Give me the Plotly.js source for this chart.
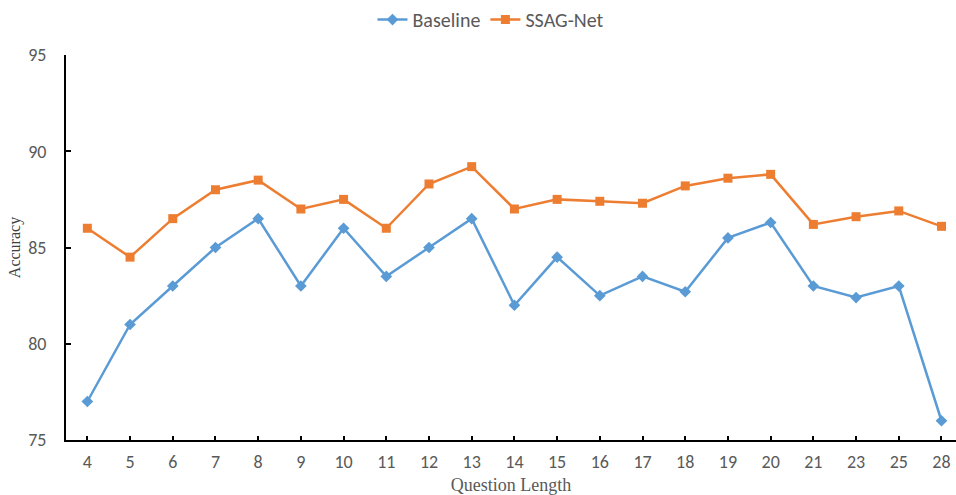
<!DOCTYPE html>
<html>
<head>
<meta charset="utf-8">
<script src="https://cdn.plot.ly/plotly-3.0.1.min.js"></script>
<style>html,body{margin:0;padding:0;background:#fff;}#chart{width:956px;height:495px;}</style>
</head>
<body>
<div id="chart"></div>
<script>
const categories = ["4","5","6","7","8","9","10","11","12","13","14","15","16","17","18","19","20","21","23","25","28"];
const baseline = [77.0,81.0,83.0,85.0,86.5,83.0,86.0,83.5,85.0,86.5,82.0,84.5,82.5,83.5,82.7,85.5,86.3,83.0,82.4,83.0,76.0];
const ssagNet = [86.0,84.5,86.5,88.0,88.5,87.0,87.5,86.0,88.3,89.2,87.0,87.5,87.4,87.3,88.2,88.6,88.8,86.2,86.6,86.9,86.1];
const yTicks = [75,80,85,90,95];

const sansFont = "Carlito, 'Liberation Sans Narrow', 'DejaVu Sans Condensed', 'Open Sans', sans-serif";
const serifFont = "'Liberation Serif', 'DejaVu Serif', serif";

const traces = [
  {x: categories, y: baseline, name: "Baseline", type: "scatter", mode: "lines+markers",
   line: {color: "#5B9BD5", width: 2.5}, marker: {symbol: "diamond", size: 9, color: "#5B9BD5"}},
  {x: categories, y: ssagNet, name: "SSAG-Net", type: "scatter", mode: "lines+markers",
   line: {color: "#ED7D31", width: 2.5}, marker: {symbol: "square", size: 9, color: "#ED7D31"}}
];

const layout = {
  width: 956, height: 495,
  margin: {l: 66, r: 0, t: 55, b: 55, autoexpand: false},
  paper_bgcolor: "#fff", plot_bgcolor: "#fff",
  showlegend: true,
  legend: {orientation: "h", x: 0.4775, xanchor: "center", y: 1.092, yanchor: "middle",
           font: {family: sansFont, size: 20, color: "#595959"}, itemwidth: 30},
  xaxis: {
    type: "category", range: [-0.5, 20.34], showgrid: false, zeroline: false,
    showline: true, linecolor: "#000", linewidth: 2,
    ticks: "inside", ticklen: 4, tickwidth: 2, tickcolor: "#000",
    ticklabelstandoff: 4,
    tickfont: {family: sansFont, size: 18, color: "#595959"},
    title: {text: "Question Length", font: {family: serifFont, size: 18, color: "#595959"}, standoff: 10},
    automargin: false
  },
  yaxis: {
    range: [75, 95], tickvals: yTicks, showgrid: false, zeroline: false,
    showline: true, linecolor: "#000", linewidth: 2,
    ticks: "inside", ticklen: 5, tickwidth: 2, tickcolor: "#000",
    ticklabelstandoff: 14,
    tickfont: {family: sansFont, size: 18, color: "#595959"},
    title: {text: "Accuracy", font: {family: serifFont, size: 16, color: "#404040"}, standoff: 4},
    automargin: false
  }
};

Plotly.newPlot("chart", traces, layout, {displayModeBar: false, staticPlot: true});
</script>
</body>
</html>
